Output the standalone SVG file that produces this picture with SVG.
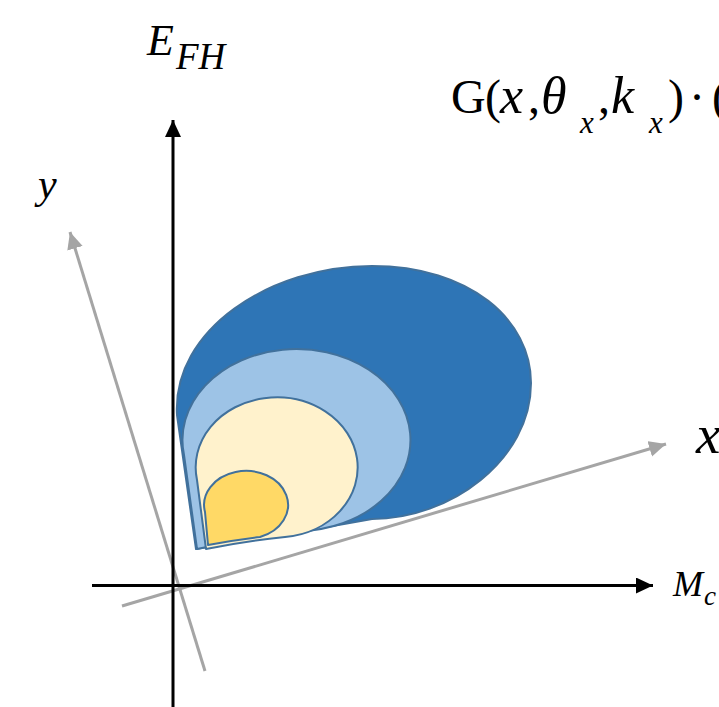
<svg xmlns="http://www.w3.org/2000/svg" width="719" height="707" viewBox="0 0 719 707">
<style>
.ax{stroke:#000;stroke-width:3;fill:none}
.gx{stroke:#A5A5A5;stroke-width:3;fill:none}
.sh{stroke:#41719C;stroke-width:2;stroke-linejoin:round}
.t{font-family:"Liberation Serif","Times New Roman",serif;fill:#000}
.i{font-style:italic}
</style>
<defs>
<marker id="ab" markerUnits="userSpaceOnUse" markerWidth="20" markerHeight="20" refX="17" refY="8" orient="auto"><path d="M0,0 L17,8 L0,16 Z" fill="#000"/></marker>
<marker id="ag" markerUnits="userSpaceOnUse" markerWidth="20" markerHeight="20" refX="17" refY="8" orient="auto"><path d="M0,0 L17,8 L0,16 Z" fill="#A5A5A5"/></marker>
</defs>
<g id="connectors">
<line class="gx" x1="205" y1="671" x2="70" y2="232" marker-end="url(#ag)"/>
<line class="gx" x1="122" y1="606" x2="666" y2="444" marker-end="url(#ag)"/>
<line class="ax" x1="173" y1="707" x2="173" y2="120" marker-end="url(#ab)"/>
<line class="ax" x1="92" y1="585.5" x2="653" y2="585.5" marker-end="url(#ab)"/>
</g>
<g id="dark">
<path class="sh" fill="#2E75B6" stroke-width="1.5" d="M196,549 L177,415 C172,330 270,266 372,266 C470,266 531,320 531,383 C531,460 450,519 372,519 Q300,532 196,549 Z"/>
</g>
<g id="light">
<path class="sh" fill="#9DC3E6" d="M197,549 L184,455 A114,91 0 1 1 300,531 Q250,538 197,549 Z"/>
</g>
<g id="cream">
<path class="sh" fill="#FFF2CC" d="M206,549 L197,480 A81,70 0 1 1 285,537 Q245,541 206,549 Z"/>
</g>
<g id="yellow">
<path class="sh" fill="#FFD966" d="M208,545 L205,512 A42,34 0 1 1 260,537 Q235,540 208,545 Z"/>
</g>
<g id="labels">
<text class="t i" x="147" y="55" font-size="44">E<tspan x="176" y="69" font-size="37">FH</tspan></text>
<text class="t i" x="38" y="198" font-size="42">y</text>
<text class="t i" x="696" y="453" font-size="55">x</text>
<text class="t i" x="673" y="596" font-size="36">M<tspan x="704" y="605" font-size="27">c</tspan></text>
<text class="t" font-size="48" y="113"><tspan x="451">G</tspan><tspan x="485">(</tspan><tspan class="i" x="500" font-size="52">x</tspan><tspan x="528">,</tspan><tspan class="i" x="541" font-size="52">θ</tspan><tspan class="i" x="580" y="133" font-size="31">x</tspan><tspan x="598" y="113">,</tspan><tspan class="i" x="611" font-size="52">k</tspan><tspan class="i" x="649" y="133" font-size="31">x</tspan><tspan x="668" y="113">)</tspan><tspan x="689">·</tspan><tspan x="712">(</tspan></text>
</g>
</svg>
